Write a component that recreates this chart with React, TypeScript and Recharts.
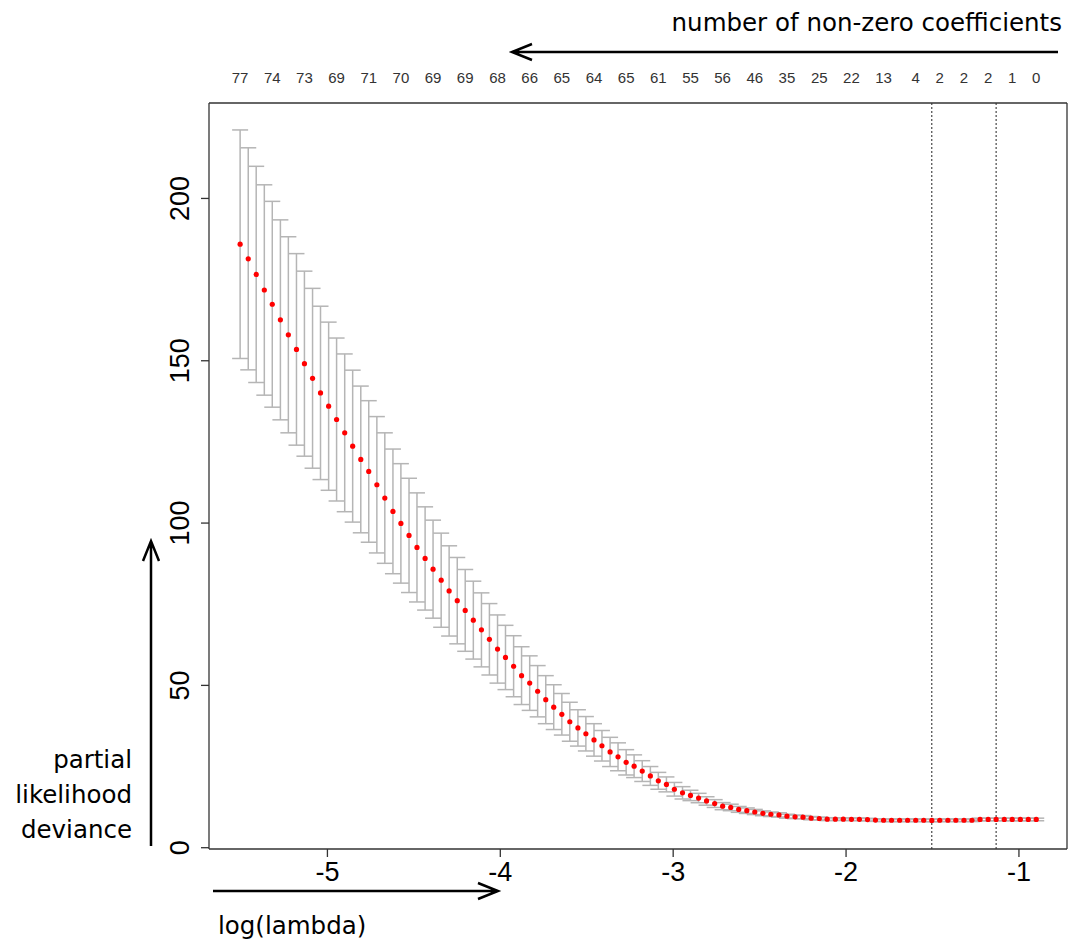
import React from 'react';
import { ComposedChart, Scatter, ErrorBar, XAxis, YAxis, ReferenceLine } from 'recharts';

// log(lambda) path, smallest lambda first
const logLambda = [
  -5.505, -5.458, -5.412, -5.365, -5.319, -5.272, -5.226, -5.179, -5.133, -5.086,
  -5.040, -4.993, -4.947, -4.900, -4.854, -4.807, -4.761, -4.714, -4.668, -4.621,
  -4.575, -4.528, -4.482, -4.435, -4.389, -4.342, -4.296, -4.249, -4.203, -4.156,
  -4.109, -4.063, -4.016, -3.970, -3.923, -3.877, -3.830, -3.784, -3.737, -3.691,
  -3.644, -3.598, -3.551, -3.505, -3.458, -3.412, -3.365, -3.319, -3.272, -3.226,
  -3.179, -3.132, -3.086, -3.039, -2.993, -2.946, -2.900, -2.853, -2.807, -2.760,
  -2.714, -2.667, -2.621, -2.574, -2.528, -2.481, -2.435, -2.388, -2.342, -2.295,
  -2.249, -2.202, -2.155, -2.109, -2.062, -2.016, -1.969, -1.923, -1.876, -1.830,
  -1.783, -1.737, -1.690, -1.644, -1.597, -1.551, -1.504, -1.458, -1.411, -1.365,
  -1.318, -1.272, -1.225, -1.178, -1.132, -1.085, -1.039, -0.992, -0.946, -0.900,
];

// mean cross-validated partial likelihood deviance
const cvm = [
  185.9, 181.4, 176.6, 171.8, 167.4, 162.6, 158.0, 153.5, 149.1, 144.6,
  140.1, 136.0, 131.9, 127.8, 123.7, 119.6, 115.9, 111.8, 107.7, 103.6,
  99.9, 96.2, 92.5, 89.1, 85.8, 82.4, 79.1, 76.1, 73.1, 70.1,
  67.1, 64.2, 61.2, 58.6, 55.9, 53.0, 50.7, 48.2, 45.6, 43.3,
  41.1, 38.8, 36.9, 35.1, 33.2, 31.4, 29.5, 28.0, 26.3, 25.1,
  23.6, 22.1, 20.6, 19.5, 18.0, 16.9, 16.1, 15.3, 14.4, 13.6,
  12.8, 12.4, 11.8, 11.4, 11.0, 10.6, 10.3, 10.1, 9.7, 9.5,
  9.4, 9.1, 9.0, 8.8, 8.8, 8.8, 8.75, 8.75, 8.65, 8.5,
  8.45, 8.45, 8.45, 8.45, 8.45, 8.45, 8.4, 8.45, 8.45, 8.45,
  8.45, 8.45, 8.7, 8.7, 8.7, 8.7, 8.7, 8.7, 8.7, 8.7,
];

// standard error (half height of the bars)
const cvsd = [
  35.2, 34.2, 33.3, 32.4, 31.7, 30.8, 30.2, 29.5, 28.5, 27.7,
  26.7, 25.9, 25.1, 24.3, 23.4, 22.6, 21.8, 21.0, 20.1, 19.2,
  18.4, 17.6, 16.8, 15.9, 15.1, 14.5, 13.9, 13.3, 12.6, 12.0,
  11.4, 11.0, 10.5, 9.9, 9.4, 8.9, 8.4, 7.9, 7.4, 6.9,
  6.4, 6.0, 5.6, 5.3, 5.0, 4.7, 4.5, 4.3, 3.9, 3.5,
  3.2, 2.9, 2.6, 2.3, 2.1, 1.9, 1.6, 1.45, 1.3, 1.2,
  1.1, 1.0, 0.9, 0.85, 0.8, 0.75, 0.7, 0.65, 0.6, 0.55,
  0.5, 0.5, 0.45, 0.45, 0.4, 0.4, 0.4, 0.4, 0.4, 0.4,
  0.4, 0.4, 0.4, 0.4, 0.4, 0.4, 0.4, 0.4, 0.4, 0.4,
  0.4, 0.4, 0.4, 0.4, 0.4, 0.4, 0.4, 0.4, 0.4, 0.4,
];

// number of non-zero coefficients shown along the top, and the lambda index they sit at
const nzLabels = [77, 74, 73, 69, 71, 70, 69, 69, 68, 66, 65, 64, 65, 61, 55, 56, 46, 35, 25, 22, 13, 4, 2, 2, 2, 1, 0];
const nzIndex = [0, 4, 8, 12, 16, 20, 24, 28, 32, 36, 40, 44, 48, 52, 56, 60, 64, 68, 72, 76, 80, 84, 87, 90, 93, 96, 99];

const xTicks = [-5, -4, -3, -2, -1];
const yTicks = [0, 50, 100, 150, 200];
const minIndex = 86;
const seIndex = 94;

const rows = logLambda.map((l, i) => ({ logLambda: l, cvm: cvm[i], cvsd: cvsd[i] }));
const topTicks = nzIndex.map((i) => logLambda[i]);

const X_DOMAIN: [number, number] = [-5.685, -0.722];
const Y_DOMAIN: [number, number] = [-0.4, 229.4];
const AXIS_FONT = '"Liberation Sans", Arial, sans-serif';
const NOTE_FONT = '"DejaVu Sans", sans-serif';
const LINE = { stroke: '#333', strokeWidth: 1.3 };

function YTick({ x, y, payload }: any) {
  return (
    <text x={x} y={y} transform={`rotate(-90 ${x} ${y})`} textAnchor="middle"
      fontSize={27} fill="#000" fontFamily={AXIS_FONT}>
      {payload.value}
    </text>
  );
}

function Dot(props: any) {
  return <circle cx={props.cx} cy={props.cy} r={2.6} fill="#ff0000" />;
}

function Nothing() {
  return <g />;
}

function Notes() {
  const arrow = { stroke: '#000', strokeWidth: 2.5, fill: 'none' };
  return (
    <svg width={1083} height={943} style={{ position: 'absolute', left: 0, top: 0, pointerEvents: 'none' }}>
      <text x={1062} y={31} textAnchor="end" fontSize={24.5} fontFamily={NOTE_FONT} fill="#000">
        number of non-zero coefficients
      </text>
      <path d="M1058 52 L512 52 M532 44 L512 52 L532 60" {...arrow} />
      <path d="M213 891 L498 891 M478 883 L498 891 L478 899" {...arrow} />
      <text x={218} y={934} fontSize={24.5} fontFamily={NOTE_FONT} fill="#000">log(lambda)</text>
      <path d="M151 846 L151 541 M143 561 L151 541 L159 561" {...arrow} />
      <text textAnchor="end" fontSize={24.5} fontFamily={NOTE_FONT} fill="#000">
        <tspan x={132} y={768}>partial</tspan>
        <tspan x={132} y={803}>likelihood</tspan>
        <tspan x={132} y={838}>deviance</tspan>
      </text>
    </svg>
  );
}

export default function App() {
  return (
    <div style={{ position: 'absolute', left: 0, top: 0, width: 1083, height: 943, background: '#fff' }}>
      <ComposedChart width={1083} height={943} data={rows}
        margin={{ top: 73, right: 6, bottom: 64, left: 149 }}>
        <XAxis xAxisId="bottom" dataKey="logLambda" type="number" domain={X_DOMAIN} ticks={xTicks}
          allowDataOverflow height={30} tickSize={8} tickMargin={5} interval={0}
          axisLine={LINE} tickLine={LINE}
          tick={{ fontSize: 27, fill: '#000', fontFamily: AXIS_FONT }} />
        <XAxis xAxisId="top" orientation="top" dataKey="logLambda" type="number" domain={X_DOMAIN} ticks={topTicks}
          allowDataOverflow height={30} tickSize={0} tickMargin={20} interval={0}
          tickFormatter={(v: number) => String(nzLabels[topTicks.indexOf(v)])}
          axisLine={LINE} tickLine={false}
          tick={{ fontSize: 15, fill: '#333', fontFamily: AXIS_FONT }} />
        <YAxis yAxisId="left" type="number" domain={Y_DOMAIN} ticks={yTicks} allowDataOverflow
          width={60} tickSize={8} tickMargin={12} interval={0}
          axisLine={LINE} tickLine={LINE}
          tick={<YTick />} />
        <YAxis yAxisId="right" orientation="right" type="number" domain={Y_DOMAIN} allowDataOverflow
          width={10} tick={false} tickLine={false} axisLine={LINE} />
        <ReferenceLine xAxisId="bottom" yAxisId="left" x={logLambda[minIndex]} stroke="#222" strokeDasharray="2 2" />
        <ReferenceLine xAxisId="bottom" yAxisId="left" x={logLambda[seIndex]} stroke="#222" strokeDasharray="2 2" />
        {/* carries the top axis (coefficient counts); draws nothing itself */}
        <Scatter xAxisId="top" yAxisId="right" dataKey="cvm" shape={<Nothing />} isAnimationActive={false} />
        <Scatter xAxisId="bottom" yAxisId="left" dataKey="cvm" shape={<Dot />} isAnimationActive={false}>
          <ErrorBar dataKey="cvsd" direction="y" width={8} stroke="#b5b5b5" strokeWidth={1.5} isAnimationActive={false} />
        </Scatter>
      </ComposedChart>
      <Notes />
    </div>
  );
}
